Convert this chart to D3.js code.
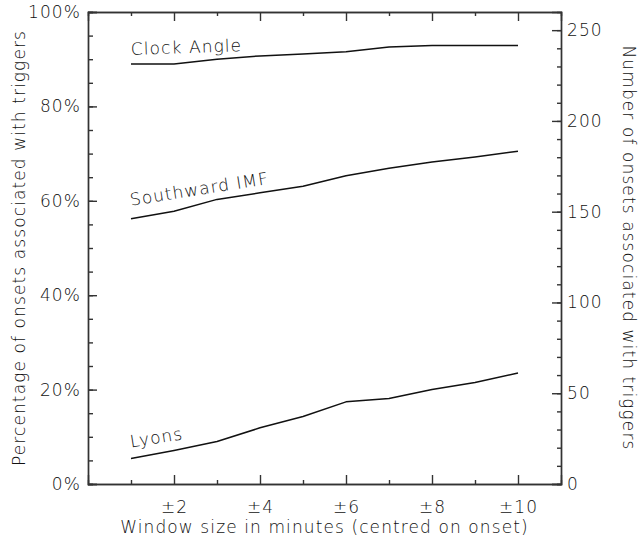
<!DOCTYPE html>
<html>
<head>
<meta charset="utf-8">
<script src="https://cdn.jsdelivr.net/npm/d3@7"></script>
<style>
  body { margin: 0; background: #fff; }
  svg text { font-family: "DejaVu Sans", sans-serif; font-size: 17px; font-weight: 200; fill: #111; letter-spacing: 1.1px; }
  .axis path, .axis line { stroke: #333; stroke-width: 1.4; }
</style>
</head>
<body>
<svg width="638" height="541"></svg>
<script>
// window size (± minutes)
var windows = [1, 2, 3, 4, 5, 6, 7, 8, 9, 10];

// percentage of onsets associated with triggers
var clockAngle = [89.0, 89.0, 90.0, 90.7, 91.1, 91.6, 92.6, 92.9, 92.9, 92.9];
var southwardIMF = [56.2, 57.8, 60.3, 61.7, 63.1, 65.3, 66.9, 68.2, 69.3, 70.5];
var lyons = [5.4, 7.1, 9.0, 11.9, 14.3, 17.4, 18.1, 20.0, 21.5, 23.5];

var seriesNames = ["Clock Angle", "Southward IMF", "Lyons"];
var totalOnsets = 260;

var xMajor = [2, 4, 6, 8, 10],
    xMinor = [1, 3, 5, 7, 9],
    pctMajor = [0, 20, 40, 60, 80, 100],
    cntMajor = [0, 50, 100, 150, 200, 250];

var svg = d3.select("svg"),
    margin = { top: 12, right: 77, bottom: 57, left: 88 },
    width = +svg.attr("width") - margin.left - margin.right,
    height = +svg.attr("height") - margin.top - margin.bottom,
    g = svg.append("g").attr("transform", "translate(" + margin.left + "," + margin.top + ")");

var x = d3.scaleLinear().domain([0, 11]).range([0, width]);
var y = d3.scaleLinear().domain([0, 100]).range([height, 0]);
var yCount = d3.scaleLinear().domain([0, totalOnsets]).range([height, 0]);

// minor ticks
g.append("g").attr("class", "axis")
    .attr("transform", "translate(0," + height + ")")
    .call(d3.axisBottom(x).tickValues(xMinor).tickSize(-4).tickFormat(""));
g.append("g").attr("class", "axis")
    .call(d3.axisTop(x).tickValues(xMinor).tickSize(-4).tickFormat(""));
g.append("g").attr("class", "axis")
    .call(d3.axisLeft(y).tickValues(d3.range(0, 101, 5)).tickSize(-5).tickFormat(""));
g.append("g").attr("class", "axis")
    .attr("transform", "translate(" + width + ",0)")
    .call(d3.axisRight(yCount).tickValues(d3.range(0, totalOnsets, 10)).tickSize(-4).tickFormat(""));

// major ticks
g.append("g").attr("class", "axis")
    .attr("transform", "translate(0," + height + ")")
    .call(d3.axisBottom(x).tickValues(xMajor).tickSize(-9).tickPadding(17)
        .tickFormat(d => "\u00b1" + d));
g.append("g").attr("class", "axis")
    .call(d3.axisTop(x).tickValues(xMajor).tickSize(-9).tickFormat(""));
g.append("g").attr("class", "axis")
    .call(d3.axisLeft(y).tickValues(pctMajor).tickSize(-9).tickPadding(7)
        .tickFormat(d => d + "%"));
g.append("g").attr("class", "axis")
    .attr("transform", "translate(" + width + ",0)")
    .call(d3.axisRight(yCount).tickValues(cntMajor).tickSize(-9).tickPadding(6));

g.selectAll(".axis text").style("font-size", "17px").attr("fill", "#111");

// axis titles
svg.append("text")
    .attr("text-anchor", "middle")
    .attr("transform", "translate(25," + (margin.top + height / 2) + ") rotate(-90)")
    .text("Percentage of onsets associated with triggers");
svg.append("text")
    .attr("text-anchor", "middle")
    .attr("transform", "translate(623," + (margin.top + height / 2) + ") rotate(90)")
    .text("Number of onsets associated with triggers");
svg.append("text")
    .attr("text-anchor", "middle")
    .attr("x", margin.left + width / 2)
    .attr("y", 533)
    .text("Window size in minutes (centred on onset)");

// lines
var line = d3.line()
    .x((d, i) => x(windows[i]))
    .y(d => y(d));

var series = [clockAngle, southwardIMF, lyons];
var labelRot = [-2, -9, -9];
var labelDy = [-9, -13, -11];

series.forEach(function (s, k) {
    g.append("path")
        .datum(s)
        .attr("fill", "none")
        .attr("stroke", "#111")
        .attr("stroke-width", 1.5)
        .attr("stroke-linejoin", "round")
        .attr("d", line);

    var lx = x(windows[0]), ly = y(s[0]) + labelDy[k];
    g.append("text")
        .attr("transform", "translate(" + lx + "," + ly + ") rotate(" + labelRot[k] + ")")
        .text(seriesNames[k]);
});
</script>
</body>
</html>
